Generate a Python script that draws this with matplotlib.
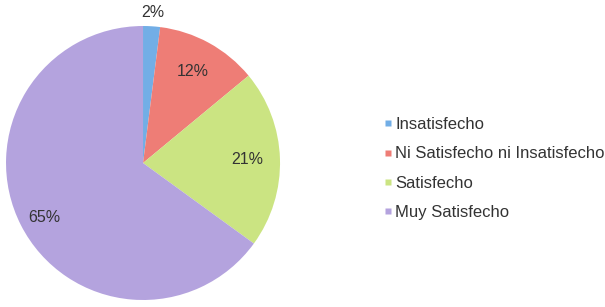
import matplotlib
matplotlib.use("Agg")
import matplotlib.pyplot as plt
import numpy as np
from matplotlib.lines import Line2D

plt.rcParams['font.family'] = ['Liberation Sans', 'DejaVu Sans']

# Data
categories = ['Insatisfecho', 'Ni Satisfecho ni Insatisfecho', 'Satisfecho', 'Muy Satisfecho']
values = [2, 12, 21, 65]
colors = ['#72aee6', '#ee7d76', '#cbe482', '#b4a3de']

fig = plt.figure(figsize=(6.05, 3.07), dpi=100)
ax = fig.add_axes([0.0099, 0.0228, 0.453, 0.8925])

wedges, texts, autotexts = ax.pie(values, colors=colors, startangle=90, counterclock=False,
                                  autopct='%1.0f%%', pctdistance=0.76,
                                  textprops={'fontsize': 11.5, 'color': '#333333'})
ax.set_xlim(-1, 1)
ax.set_ylim(-1, 1)
ax.set_aspect('equal')

# the small slice label sits outside the pie
ang = np.deg2rad(90 - 360 * values[0] / 200)
autotexts[0].set_position((1.1 * np.cos(ang), 1.1 * np.sin(ang)))
autotexts[3].set_position((-0.72, -0.4))

handles = [Line2D([], [], marker='s', linestyle='none', markersize=5,
                  markerfacecolor=c, markeredgecolor='none') for c in colors]
fig.legend(handles, categories, loc='upper left', bbox_to_anchor=(0.622, 0.64),
           frameon=False, fontsize=12, handlelength=0.6, handletextpad=0.15,
           labelspacing=0.85, labelcolor='#333333', borderaxespad=0)

fig.savefig('out.png', dpi=100)
